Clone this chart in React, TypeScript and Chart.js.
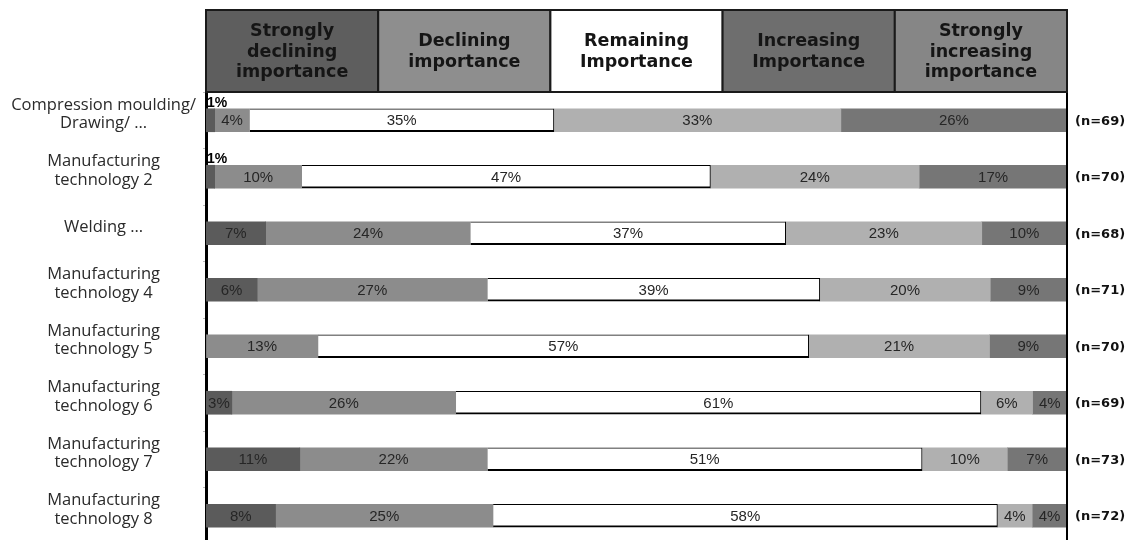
import { useEffect, useRef } from "react";
import { Chart, registerables } from "chart.js";

Chart.register(...registerables);

const categories: (string | string[])[] = [
  ["Compression moulding/", "Drawing/ …"],
  ["Manufacturing", "technology 2"],
  "Welding …",
  ["Manufacturing", "technology 4"],
  ["Manufacturing", "technology 5"],
  ["Manufacturing", "technology 6"],
  ["Manufacturing", "technology 7"],
  ["Manufacturing", "technology 8"],
];
const sampleSizes = ["(n=69)", "(n=70)", "(n=68)", "(n=71)", "(n=70)", "(n=69)", "(n=73)", "(n=72)"];
const headerLabels: string[][] = [
  ["Strongly", "declining", "importance"],
  ["Declining", "importance"],
  ["Remaining", "Importance"],
  ["Increasing", "Importance"],
  ["Strongly", "increasing", "importance"],
];
const stronglyDeclining = [1, 1, 7, 6, 0, 3, 11, 8];
const declining = [4, 10, 24, 27, 13, 26, 22, 25];
const remaining = [35, 47, 37, 39, 57, 61, 51, 58];
const increasing = [33, 24, 23, 20, 21, 6, 10, 4];
const stronglyIncreasing = [26, 17, 10, 9, 9, 4, 7, 4];
const barColors = ["#5b5b5b", "#8c8c8c", "#ffffff", "#b0b0b0", "#767676"];
const headerColors = ["#5e5e5e", "#8e8e8e", "#ffffff", "#6e6e6e", "#868686"];

const series = [stronglyDeclining, declining, remaining, increasing, stronglyIncreasing];
const rowTotals = categories.map((_, i) => series.reduce((s, arr) => s + arr[i], 0));

const overlayPlugin = {
  id: "overlay",
  afterDatasetsDraw(chart: any) {
    const ctx = chart.ctx;
    const xs = chart.scales.x;
    const ys = chart.scales.y;
    const area = chart.chartArea;
    ctx.save();
    // segment value labels
    chart.data.datasets.forEach((ds: any, di: number) => {
      const meta = chart.getDatasetMeta(di);
      meta.data.forEach((bar: any, i: number) => {
        const v = series[di][i];
        if (!v) return;
        const left = Math.min(bar.x, bar.base);
        const right = Math.max(bar.x, bar.base);
        if (v <= 1) {
          ctx.font = "bold 14px 'Liberation Sans', Arial, sans-serif";
          ctx.fillStyle = "#000";
          ctx.textAlign = "left";
          ctx.textBaseline = "alphabetic";
          ctx.fillText(v + "%", left + 1, bar.y - bar.height / 2 - 2);
        } else {
          ctx.font = "15px 'Liberation Sans', Arial, sans-serif";
          ctx.fillStyle = "#262626";
          ctx.textAlign = "center";
          ctx.textBaseline = "middle";
          ctx.fillText(v + "%", (left + right) / 2, bar.y + 1);
        }
      });
    });
    // sample sizes
    ctx.font = "bold 13px 'DejaVu Sans', Verdana, sans-serif";
    ctx.fillStyle = "#111";
    ctx.textAlign = "left";
    ctx.textBaseline = "middle";
    sampleSizes.forEach((t, i) => {
      ctx.fillText(t, area.right + 8, ys.getPixelForValue(i) + 1);
    });
    // right vertical line
    ctx.strokeStyle = "#000";
    ctx.lineWidth = 2;
    ctx.beginPath();
    ctx.moveTo(area.right, area.top);
    ctx.lineTo(area.right, chart.height);
    ctx.stroke();
    // header boxes
    const top = 10;
    const bottom = area.top;
    headerLabels.forEach((lines, i) => {
      const x0 = xs.getPixelForValue(i * 20);
      const x1 = xs.getPixelForValue((i + 1) * 20);
      ctx.fillStyle = headerColors[i];
      ctx.fillRect(x0, top, x1 - x0, bottom - top);
      ctx.strokeStyle = "#1a1a1a";
      ctx.lineWidth = 2;
      ctx.strokeRect(x0, top, x1 - x0, bottom - top);
      ctx.fillStyle = "#151515";
      ctx.font = "bold 17.5px 'DejaVu Sans', Verdana, sans-serif";
      ctx.textAlign = "center";
      ctx.textBaseline = "middle";
      const lh = 20.5;
      const cy = (top + bottom) / 2 + 1;
      lines.forEach((ln, k) => {
        ctx.fillText(ln, (x0 + x1) / 2, cy + (k - (lines.length - 1) / 2) * lh);
      });
    });
    ctx.restore();
  },
};

export default function App() {
  const ref = useRef<HTMLCanvasElement | null>(null);
  useEffect(() => {
    if (!ref.current) return;
    const chart = new Chart(ref.current, {
      type: "bar",
      data: {
        labels: categories,
        datasets: series.map((arr, di) => ({
          label: headerLabels[di].join(" "),
          data: arr.map((v, i) => (v / rowTotals[i]) * 100),
          backgroundColor: barColors[di],
          borderColor: "#000",
          borderWidth: di === 2 ? { top: 1, right: 1, bottom: 2, left: 0 } : 0,
          borderSkipped: false,
          barThickness: 23,
        })),
      },
      options: {
        indexAxis: "y",
        animation: false,
        responsive: false,
        maintainAspectRatio: false,
        layout: { padding: { top: 92, right: 65, left: 0, bottom: 0 } },
        plugins: { legend: { display: false }, tooltip: { enabled: false } },
        scales: {
          x: { stacked: true, min: 0, max: 100, display: false },
          y: {
            stacked: true,
            afterFit: (s: any) => {
              s.width = 206;
              s.paddingTop = 0;
              s.paddingBottom = 0;
            },
            grid: { drawOnChartArea: false, drawTicks: true, tickLength: 3, offset: true, color: "#bbb" },
            border: { display: true, color: "#000", width: 3 },
            ticks: {
              crossAlign: "center",
              labelOffset: -6,
              padding: 7,
              color: "#2a2a2a",
              font: { family: "'Open Sans', sans-serif", size: 16.5, lineHeight: 1.1 },
            },
          },
        },
      },
      plugins: [overlayPlugin],
    } as any);
    return () => chart.destroy();
  }, []);
  return (
    <div style={{ position: "fixed", left: 0, top: 0, width: 1132, height: 544, background: "#fff" }}>
      <canvas ref={ref} width={1132} height={544} style={{ width: 1132, height: 544 }} />
    </div>
  );
}
